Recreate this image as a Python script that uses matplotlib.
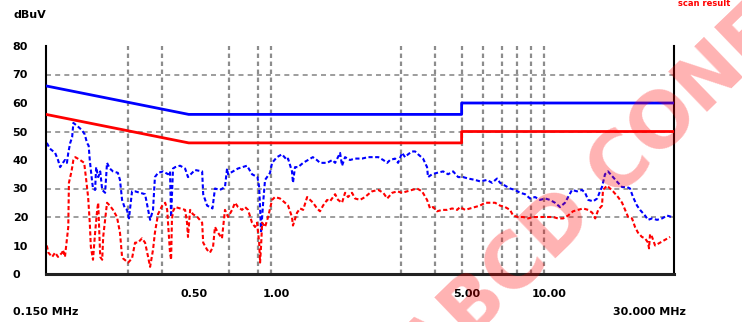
import matplotlib.pyplot as plt
from matplotlib.transforms import ScaledTranslation

plt.rcParams['font.family'] = ['DejaVu Sans']

# limit lines, dBuV
lim_freq = [0.15, 0.5, 0.5, 5.0, 5.0, 30.0]
qp_limit = [66, 56, 56, 56, 60, 60]
avg_limit = [56, 46, 46, 46, 50, 50]

# peak detector scan (MHz / dBuV)
peak_freq = [0.151, 0.155, 0.162, 0.166, 0.169, 0.173, 0.176, 0.179, 0.181, 0.184,
             0.187, 0.189, 0.195, 0.203, 0.208, 0.212, 0.215, 0.217, 0.221, 0.223,
             0.227, 0.229, 0.233, 0.237, 0.241, 0.247, 0.251, 0.257, 0.264, 0.275,
             0.280, 0.285, 0.292, 0.297, 0.302, 0.310, 0.318, 0.332, 0.346, 0.355,
             0.361, 0.370, 0.376, 0.386, 0.403, 0.420, 0.427, 0.431, 0.438, 0.446,
             0.465, 0.485, 0.497, 0.527, 0.560, 0.565, 0.584, 0.611, 0.624, 0.651,
             0.679, 0.691, 0.697, 0.757, 0.818, 0.853, 0.893, 0.906, 0.921, 0.937,
             0.952, 0.993, 1.010, 1.053, 1.098, 1.146, 1.156, 1.195, 1.205, 1.226,
             1.258, 1.313, 1.425, 1.474, 1.514, 1.608, 1.680, 1.720, 1.793, 1.823,
             1.870, 1.950, 2.034, 2.157, 2.270, 2.348, 2.475, 2.581, 2.669, 2.733,
             2.851, 2.925, 3.025, 3.103, 3.183, 3.291, 3.376, 3.463, 3.611, 3.735,
             3.766, 3.897, 4.065, 4.277, 4.461, 4.654, 4.855, 5.066, 5.284, 5.607,
             5.841, 6.195, 6.463, 6.742, 6.914, 7.212, 7.522, 7.847, 8.185, 8.538,
             8.904, 9.288, 9.690, 10.11, 10.54, 10.99, 11.47, 11.96, 12.69, 13.24,
             13.81, 14.17, 14.54, 15.17, 15.69, 16.07, 16.34, 16.76, 17.19, 17.94,
             18.71, 19.36, 20.19, 20.70, 21.23, 21.96, 22.53, 23.50, 24.10, 24.93,
             26.00, 27.12, 28.28, 29.50, 30.0]
peak_level = [46, 44, 42.5, 40, 37.5, 39, 40, 39, 42.5, 46,
              48, 53, 52, 50.5, 49, 46, 45, 40, 33, 30,
              29.5, 37.5, 34, 36, 29.5, 28.5, 39, 37, 36, 35.5,
              33, 26, 23, 22.5, 19.5, 29, 29, 28.5, 28, 22.5,
              19, 22.5, 34, 35.5, 36, 35, 36, 20, 37, 37.5,
              38, 37, 34, 36.5, 36, 28, 24, 23, 30, 29.5,
              30.5, 37, 35, 37, 38, 35, 34, 30.5, 15, 25,
              33, 35.5, 39, 41, 42, 40, 40.5, 36, 32, 37.5,
              37.5, 39, 41, 40, 39, 39, 40, 39, 42.5, 38,
              41, 40, 40.5, 40.5, 41, 41, 41, 40, 39, 40,
              40.5, 39, 42.5, 41, 42, 43, 43, 42, 40.5, 37.5,
              34, 35, 35.5, 36, 35, 36, 34, 34, 33.5, 33,
              32.5, 33, 32, 33.5, 32, 31, 30, 29.5, 28.5, 28,
              26.5, 27, 26, 26.5, 26, 25, 23.5, 25, 29.5, 29,
              29.5, 28.5, 26, 25.5, 26.5, 29, 30.5, 35, 36, 34,
              32, 30.5, 30.5, 30, 27, 24, 22.5, 20.5, 19, 19.5,
              19, 19.5, 20.5, 20, 20]

# average detector scan (MHz / dBuV)
avg_freq = [0.151, 0.153, 0.158, 0.162, 0.166, 0.172, 0.173, 0.176, 0.181, 0.182,
            0.186, 0.189, 0.192, 0.200, 0.207, 0.210, 0.214, 0.217, 0.219, 0.223,
            0.227, 0.231, 0.233, 0.237, 0.241, 0.243, 0.247, 0.251, 0.257, 0.264,
            0.273, 0.280, 0.285, 0.287, 0.300, 0.310, 0.318, 0.326, 0.337, 0.346,
            0.355, 0.361, 0.370, 0.376, 0.386, 0.400, 0.410, 0.417, 0.420, 0.427,
            0.431, 0.434, 0.438, 0.446, 0.465, 0.485, 0.493, 0.497, 0.506, 0.518,
            0.538, 0.560, 0.565, 0.584, 0.598, 0.614, 0.624, 0.640, 0.662, 0.679,
            0.697, 0.721, 0.739, 0.758, 0.784, 0.804, 0.825, 0.853, 0.875, 0.890,
            0.906, 0.913, 0.921, 0.929, 0.952, 0.977, 1.010, 1.036, 1.080, 1.127,
            1.156, 1.195, 1.205, 1.247, 1.279, 1.313, 1.358, 1.392, 1.428, 1.476,
            1.514, 1.553, 1.608, 1.647, 1.720, 1.763, 1.823, 1.870, 1.918, 1.983,
            2.034, 2.122, 2.213, 2.309, 2.348, 2.475, 2.581, 2.669, 2.786, 2.906,
            3.025, 3.156, 3.291, 3.433, 3.581, 3.735, 3.831, 3.930, 4.065, 4.241,
            4.424, 4.615, 4.814, 4.934, 5.147, 5.368, 5.607, 5.841, 6.094, 6.354,
            6.629, 6.914, 7.212, 7.522, 7.718, 8.050, 8.398, 8.762, 9.139, 9.530,
            9.940, 10.37, 10.81, 11.28, 11.77, 12.27, 12.80, 13.35, 13.93, 14.54,
            15.05, 15.43, 15.83, 16.34, 16.48, 17.05, 17.49, 17.94, 18.71, 19.36,
            19.86, 20.37, 21.06, 21.59, 22.14, 22.89, 23.50, 24.10, 24.30, 24.51,
            24.93, 25.57, 26.67, 27.80, 29.02]
avg_level = [10, 7.5, 6, 7.5, 6, 7.5, 8.5, 6, 16.5, 32,
             36, 40, 41, 40, 39, 34, 27, 18, 9.5, 5,
             14.5, 22.5, 25, 6, 5, 13, 19, 25, 24, 22.5,
             20, 14.5, 6, 5.5, 4, 5.5, 11, 11, 12.5, 11,
             6, 2.5, 8.5, 14.5, 21, 24, 25, 22.5, 18, 7.5,
             5, 19, 22, 23.5, 23, 22.5, 18, 13, 22.5, 21,
             20, 18, 11, 8.5, 7.5, 9.5, 16.5, 14.5, 12.5, 22.5,
             20, 22.5, 25, 23.5, 22.5, 23.5, 22.5, 18, 16.5, 18,
             11, 4, 10, 18, 16.5, 20, 26, 27, 26.5, 25,
             24, 20, 17, 21.5, 23, 22.5, 27, 26, 25, 23,
             22, 24, 26, 25.5, 28, 26, 25, 28.5, 27, 28.5,
             26.5, 26, 27, 28.5, 29, 29.5, 28.5, 26.5, 28.5, 29,
             28.5, 29, 29.5, 30, 29, 26, 23, 23.5, 22, 22.5,
             22.5, 23, 22.5, 23.5, 22.5, 23, 23.5, 24, 25, 25,
             25, 24, 23.5, 22.5, 20.5, 20, 20, 19.5, 20, 20,
             20, 20, 20, 19.5, 19.5, 20.5, 22, 22.5, 23, 22.5,
             21.5, 19.5, 22.5, 24, 29.5, 31, 30, 29, 27, 25,
             22.5, 20, 19.5, 16.5, 14.5, 13, 12.5, 11, 9, 14,
             13, 10, 11, 12, 13]

grid_x = [0.3, 0.4, 0.7, 0.9, 1, 3, 4, 5, 6, 7, 8, 9, 10]
grid_y = [20, 30, 50, 70]
xticks = [0.5, 1, 5, 10]
xtick_labels = ['0.50', '1.00', '5.00', '10.00']
yticks = [0, 10, 20, 30, 40, 50, 60, 70, 80]

fig = plt.figure(figsize=(7.42, 3.22), dpi=100)
ax = fig.add_axes([46 / 742, 48 / 322, 628 / 742, 228 / 322])
ax.set_xscale('log')
ax.set_xlim(0.15, 30)
ax.set_ylim(0, 80)

for gx in grid_x:
    ax.axvline(gx, color='#8c8c8c', lw=1.6, ls=(0, (2, 1.6)), zorder=1)
for gy in grid_y:
    ax.axhline(gy, color='#8c8c8c', lw=1.2, ls=(0, (3, 2.5)), zorder=1)

ax.plot(lim_freq, qp_limit, color='#0000ff', lw=2, zorder=3)
ax.plot(lim_freq, avg_limit, color='#ff0000', lw=2, zorder=3)
ax.plot(peak_freq, peak_level, color='#0000ff', lw=1.5, ls=(0, (2, 1.2)), zorder=2)
ax.plot(avg_freq, avg_level, color='#ff0000', lw=1.5, ls=(0, (2, 1.2)), zorder=2)

ax.minorticks_off()
ax.set_xticks(xticks)
ax.set_xticklabels(xtick_labels)
ax.set_yticks(yticks)
ax.set_yticklabels([str(v) for v in yticks])
ax.tick_params(length=0, labelsize=8)
ax.tick_params(axis='x', pad=11)
ax.tick_params(axis='y', pad=24)
for lbl in ax.get_yticklabels():
    lbl.set_horizontalalignment('left')
    lbl.set_fontweight('bold')
shift = ScaledTranslation(5 / 100, 0, fig.dpi_scale_trans)
for lbl in ax.get_xticklabels():
    lbl.set_fontweight('bold')
    lbl.set_transform(lbl.get_transform() + shift)

ax.spines['top'].set_visible(False)
ax.spines['left'].set_linewidth(1.5)
ax.spines['right'].set_linewidth(1.5)
ax.spines['bottom'].set_linewidth(2.2)
ax.spines['bottom'].set_color('#222222')

fig.text(13 / 742, 1 - 15 / 322, 'dBuV', fontsize=8, fontweight='bold', va='center')
fig.text(13 / 742, 10 / 322, '0.150 MHz', fontsize=8, fontweight='bold', va='center')
fig.text(613 / 742, 10 / 322, '30.000 MHz', fontsize=8, fontweight='bold', va='center')
fig.text(678 / 742, 1 - 4 / 322, 'scan result', fontsize=6, fontweight='bold',
         color='#ff0000', va='center')

# watermark
fig.text(412 / 742, -46 / 322, 'ABCD CONFIDENTIAL', fontsize=55, fontweight='bold',
         color='#ff0000', alpha=0.3, rotation=44, rotation_mode='anchor',
         ha='left', va='center', zorder=10)

fig.savefig('out.png', dpi=100)
